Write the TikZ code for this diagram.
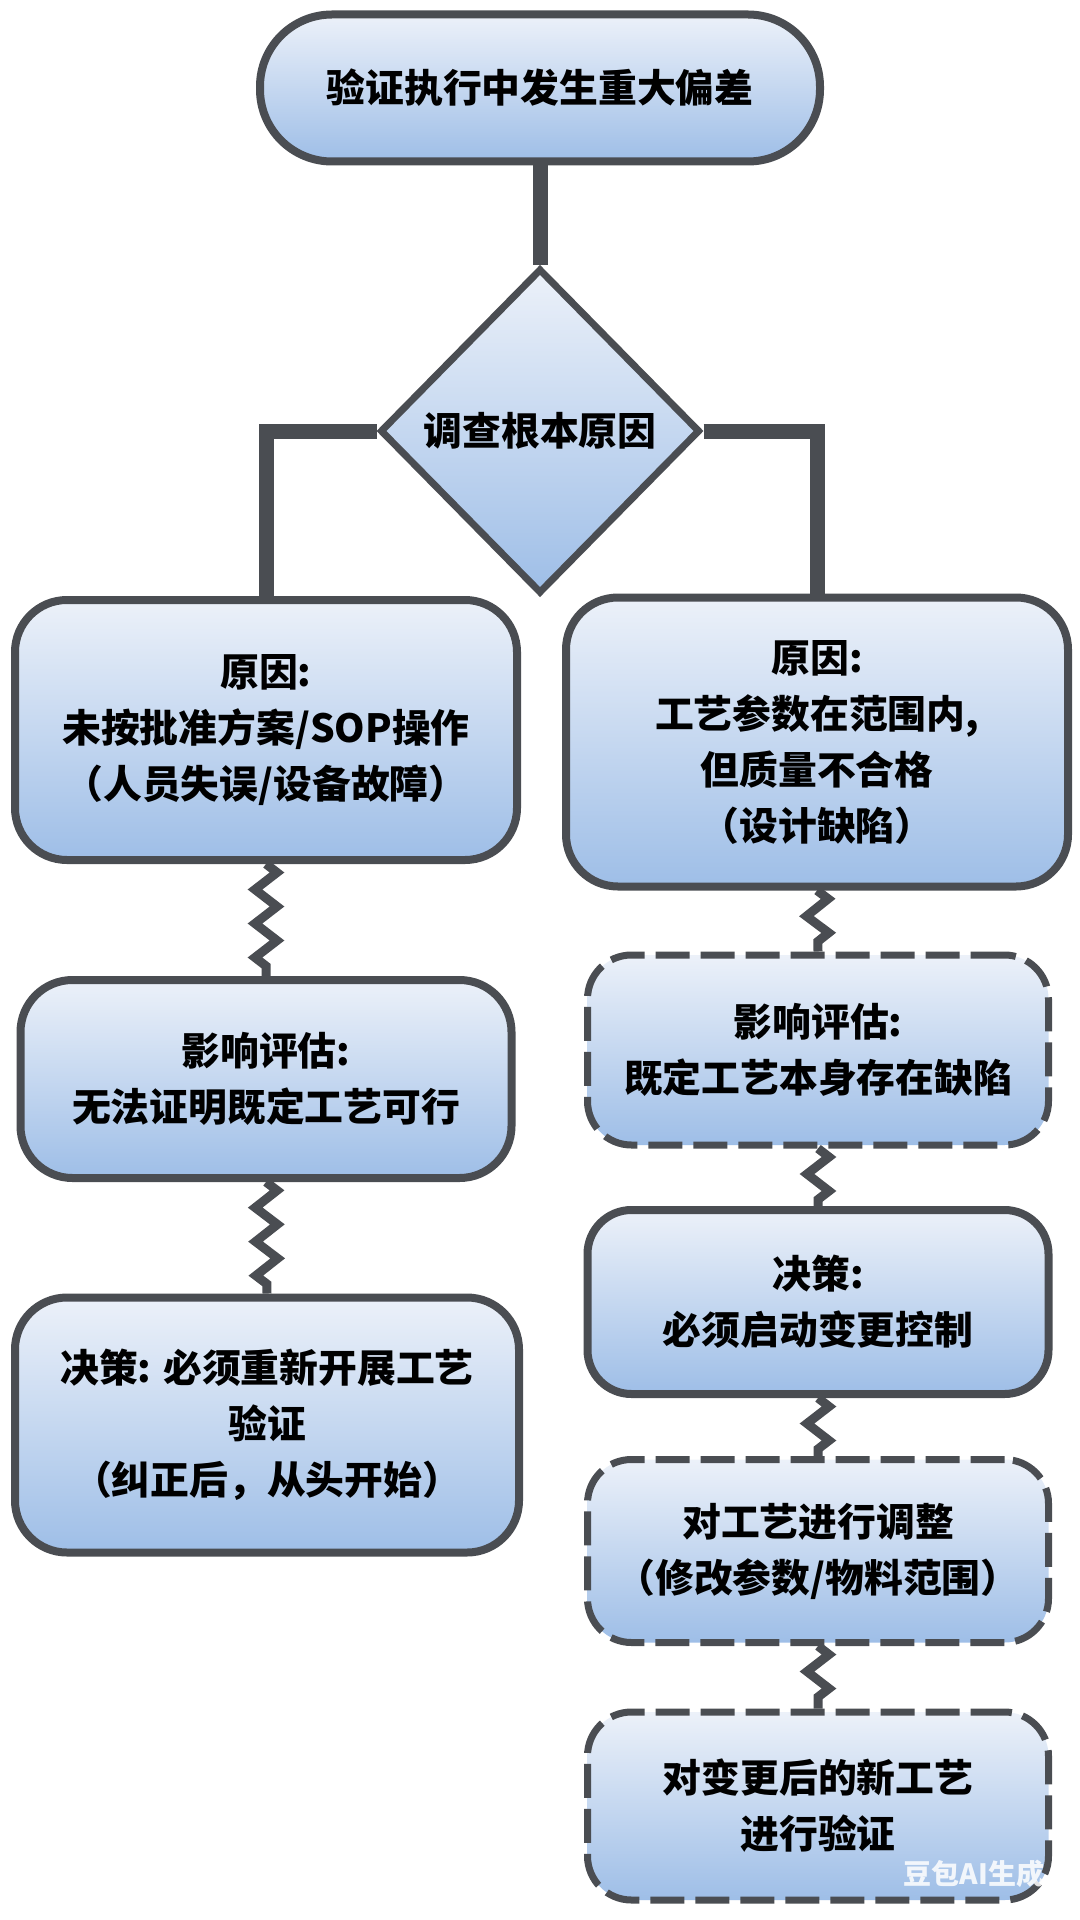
\documentclass[tikz,border=0pt]{standalone}
\usepackage{fontspec}
\setmainfont{Noto Sans CJK SC}
\usetikzlibrary{shapes.geometric,decorations.pathmorphing,backgrounds}
\definecolor{edge}{RGB}{74,77,82}
\definecolor{ftop}{RGB}{236,241,249}
\definecolor{fbot}{RGB}{158,190,231}
\tikzset{
  box/.style={draw=edge, line width=4pt, rounded corners=26pt, top color=ftop, bottom color=fbot,
    align=center, font=\fontsize{19.4pt}{28pt}\selectfont\bfseries, inner sep=0pt},
  dbox/.style={box, line width=3.5pt, dash pattern=on 17pt off 5.5pt},
  link/.style={draw=edge, line width=7.5pt},
  zz/.style={draw=edge, line width=4.5pt, decorate, decoration={zigzag, segment length=17pt, amplitude=5.5pt}},
}
\begin{document}
\begin{tikzpicture}[x=0.5pt,y=-0.5pt]
\useasboundingbox (0,0) rectangle (1080,1920);
\node[box, rounded corners=36pt, minimum width=280pt, minimum height=73.5pt] (top) at (540,88) {验证执行中发生重大偏差};
\node[diamond, draw=edge, line width=3.5pt, top color=ftop, bottom color=fbot, minimum width=160pt, minimum height=162.5pt, inner sep=0pt, font=\fontsize{19.4pt}{28pt}\selectfont\bfseries] (dia) at (540,431) {调查根本原因};
\node[box, minimum width=251pt, minimum height=130pt] (L1) at (266,730) {原因:\\未按批准方案/SOP操作\\（人员失误/设备故障）};
\node[box, minimum width=251pt, minimum height=144.5pt] (R1) at (817,742) {原因:\\工艺参数在范围内,\\但质量不合格\\（设计缺陷）};
\node[box, minimum width=245.5pt, minimum height=99pt] (L2) at (266,1079) {影响评估:\\无法证明既定工艺可行};
\node[box, minimum width=252pt, minimum height=127.5pt] (L3) at (267,1425) {决策: 必须重新开展工艺\\验证\\（纠正后，从头开始）};
\node[dbox, rounded corners=22pt, minimum width=230.5pt, minimum height=95pt] (R2) at (818,1050) {影响评估:\\既定工艺本身存在缺陷};
\node[box, rounded corners=22pt, minimum width=230.5pt, minimum height=92pt] (R3) at (818,1302) {决策:\\必须启动变更控制};
\node[dbox, rounded corners=22pt, minimum width=230.5pt, minimum height=91.5pt] (R4) at (818,1551) {对工艺进行调整\\（修改参数/物料范围）};
\node[dbox, rounded corners=22pt, minimum width=230.5pt, minimum height=94pt] (R5) at (818,1806) {对变更后的新工艺\\进行验证};
\node[text=white, text opacity=0.85, font=\fontsize{14pt}{14pt}\selectfont\bfseries] (wm) at (974,1874) {豆包AI生成};
\begin{pgfonlayer}{background}
\fill[white] (0,0) rectangle (1080,1920);
\draw[link] (top.south) -- (dia.north);
\draw[link] (dia.west) -| (L1.north);
\draw[link] (dia.east) -| (R1.north);
\draw[zz] (L1.south) -- (L2.north);
\draw[zz] (L2.south) -- (L3.north);
\draw[zz] (R1.south) -- (R2.north);
\draw[zz] (R2.south) -- (R3.north);
\draw[zz] (R3.south) -- (R4.north);
\draw[zz] (R4.south) -- (R5.north);
\end{pgfonlayer}
\end{tikzpicture}
\end{document}
